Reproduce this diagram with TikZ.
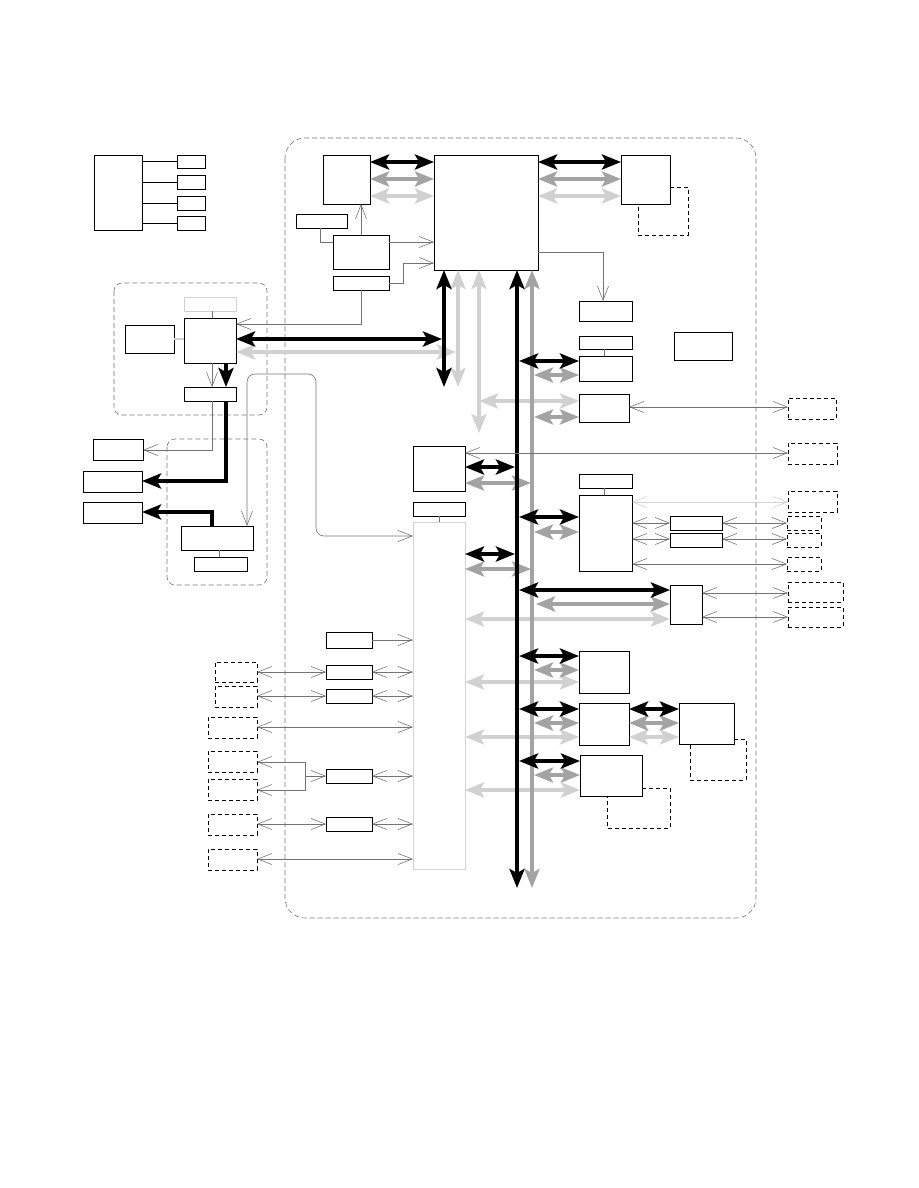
\documentclass[tikz,border=0pt]{standalone}
\usetikzlibrary{arrows.meta}
\definecolor{dg}{gray}{0.64}
\definecolor{lg}{gray}{0.82}
\definecolor{tg}{gray}{0.45}
\definecolor{fg}{gray}{0.45}
\newcommand\bx[6]{\node[#6,anchor=north west,minimum width={(#3-#1)*1pt},minimum height={(#4-#2)*1pt},inner sep=0pt,outer sep=0pt] (#5) at (#1,#2) {};}
\tikzset{
  box/.style={draw=black,fill=white,line width=0.8pt},
  gbox/.style={draw=lg,fill=white,line width=0.8pt},
  dbox/.style={draw=black,line width=0.8pt,dash pattern=on 4pt off 3pt},
  frame/.style={draw=fg,line width=0.6pt,dash pattern=on 5pt off 3pt},
  stl/.tip={Stealth[length=19pt,width=15pt,inset=4pt]},
  bar/.tip={Straight Barb[length=14pt,width=11pt]},
  bk/.style={line width=4pt,draw=black,stl-stl},
  dk/.style={bk,draw=dg},
  lk/.style={bk,draw=lg},
  bk1/.style={line width=4pt,draw=black,-stl},
  th/.style={draw=tg,line width=0.6pt,bar-bar},
  th1/.style={draw=tg,line width=0.6pt,-bar},
  ln/.style={draw=tg,line width=0.6pt},
}
\begin{document}
\begin{tikzpicture}[x=1pt,y=-1pt]
\useasboundingbox (0,0) rectangle (918,1188);
% frames
\draw[frame,rounded corners=20pt] (285,138) rectangle (756,918);
\draw[frame,rounded corners=8pt] (114,283) rectangle (267,415);
\draw[frame,rounded corners=8pt] (167,439) rectangle (267,585);
% top-left group
\bx{94}{155}{142}{230}{TL}{box}
\bx{177}{155}{205}{168}{TLa}{box}
\bx{177}{175}{205}{189}{TLb}{box}
\bx{177}{196}{205}{210}{TLc}{box}
\bx{177}{216}{205}{230}{TLd}{box}
\draw[line width=0.8pt] (TL.east |- TLa.west) -- (TLa.west);
\draw[line width=0.8pt] (TL.east |- TLb.west) -- (TLb.west);
\draw[line width=0.8pt] (TL.east |- TLc.west) -- (TLc.west);
\draw[line width=0.8pt] (TL.east |- TLd.west) -- (TLd.west);
% main boxes
\bx{323}{155}{370}{204}{A}{box}
\bx{434}{155}{538}{270}{CPU}{box}
\bx{621}{155}{670}{204}{B}{box}
\draw[dbox] (B.east |- 0,187) -- (688,187) -- (688,235) -- (638,235) -- (B.south -| 638,0);
\bx{296}{214}{347}{228}{C}{box}
\bx{333}{235}{389}{269}{D}{box}
\bx{333}{276}{389}{290}{E}{box}
\bx{579}{301}{632}{321}{G}{box}
\bx{579}{336}{632}{349}{I}{box}
\bx{579}{356}{632}{381}{J}{box}
\bx{579}{394}{629}{422}{H}{box}
\bx{674}{332}{732}{360}{K}{box}
\bx{788}{398}{836}{419}{Hd}{dbox}
\bx{413}{446}{465}{491}{L}{box}
\bx{788}{443}{837}{464}{Ld}{dbox}
\bx{413}{502}{465}{516}{M}{box}
\bx{413}{522}{465}{869}{N}{gbox}
\bx{579}{474}{632}{488}{O}{box}
\bx{579}{495}{632}{571}{P}{box}
\bx{788}{491}{837}{512}{Pda}{dbox}
\bx{670}{516}{722}{530}{Q}{box}
\bx{787}{516}{821}{530}{Qd}{dbox}
\bx{670}{533}{722}{547}{R}{box}
\bx{787}{533}{821}{547}{Rd}{dbox}
\bx{787}{557}{821}{571}{Pdb}{dbox}
\bx{670}{585}{702}{624}{S}{box}
\bx{788}{582}{843}{602}{Sda}{dbox}
\bx{788}{607}{843}{627}{Sdb}{dbox}
\bx{326}{632}{372}{648}{T}{box}
\bx{326}{665}{372}{679}{U}{box}
\bx{326}{689}{372}{703}{V}{box}
\bx{326}{769}{372}{783}{W}{box}
\bx{326}{817}{372}{831}{X}{box}
\bx{215}{662}{257}{682}{DLa}{dbox}
\bx{215}{686}{257}{707}{DLb}{dbox}
\bx{208}{717}{257}{738}{DLc}{dbox}
\bx{208}{751}{257}{772}{DLd}{dbox}
\bx{208}{779}{257}{800}{DLe}{dbox}
\bx{208}{814}{257}{835}{DLf}{dbox}
\bx{208}{849}{257}{870}{DLg}{dbox}
\bx{579}{651}{629}{693}{Y}{box}
\bx{579}{703}{629}{745}{Z}{box}
\bx{679}{703}{734}{744}{Zb}{box}
\draw[dbox] (Zb.east |- 0,739) -- (746,739) -- (746,780) -- (690,780) -- (Zb.south -| 690,0);
\bx{580}{755}{642}{796}{AA}{box}
\draw[dbox] (AA.east |- 0,788) -- (670,788) -- (670,828) -- (607,828) -- (AA.south -| 607,0);
% left group
\bx{184}{297}{236}{311}{Fz}{gbox}
\bx{184}{318}{236}{363}{F}{box}
\bx{125}{325}{174}{353}{FL}{box}
\bx{184}{387}{236}{401}{FB}{box}
\bx{93}{439}{143}{460}{LBa}{box}
\bx{83}{471}{142}{492}{LBb}{box}
\bx{83}{502}{142}{523}{LBc}{box}
\bx{181}{526}{253}{550}{FC}{box}
\bx{194}{557}{247}{571}{FD}{box}
% bus end coordinates
\coordinate (bkA) at (444,387);
\coordinate (lgA) at (458,387);
\coordinate (lgB) at (479,433);
\coordinate (bkB) at (517,888);
\coordinate (dgB) at (532,888);
\coordinate (split) at (305,790);
% ---------- thick light gray ----------
\draw[lk] (A.east |- 0,196) -- (CPU.west |- 0,196);
\draw[lk] (CPU.east |- 0,196) -- (B.west |- 0,196);
\draw[lk] (CPU.south -| lgA) -- (lgA);
\draw[lk] (CPU.south -| lgB) -- (lgB);
\draw[lk] (F.east |- 0,352) -- (456,352);
\draw[lk] (lgB |- 0,401) -- (H.west |- 0,401);
\draw[lk] (N.east |- 0,619) -- (S.west |- 0,619);
\draw[lk] (N.east |- 0,682) -- (Y.west |- 0,682);
\draw[lk] (N.east |- 0,737) -- (Z.west |- 0,737);
\draw[lk] (Z.east |- 0,737) -- (Zb.west |- 0,737);
\draw[lk] (N.east |- 0,790) -- (AA.west |- 0,790);
% ---------- thick dark gray ----------
\draw[dk] (A.east |- 0,179) -- (CPU.west |- 0,179);
\draw[dk] (CPU.east |- 0,179) -- (B.west |- 0,179);
\draw[dk] (CPU.south -| dgB) -- (dgB);
\draw[dk] (534,375) -- (J.west |- 0,375);
\draw[dk] (534,417) -- (H.west |- 0,417);
\draw[dk] (L.east |- 0,483) -- (531,483);
\draw[dk] (534,532) -- (P.west |- 0,532);
\draw[dk] (N.east |- 0,569) -- (531,569);
\draw[dk] (536,604) -- (S.west |- 0,604);
\draw[dk] (534,670) -- (Y.west |- 0,670);
\draw[dk] (534,723) -- (Z.west |- 0,723);
\draw[dk] (Z.east |- 0,723) -- (Zb.west |- 0,723);
\draw[dk] (534,775) -- (AA.west |- 0,775);
% ---------- thick black ----------
\draw[bk] (A.east |- 0,162) -- (CPU.west |- 0,162);
\draw[bk] (CPU.east |- 0,162) -- (B.west |- 0,162);
\draw[bk] (CPU.south -| bkA) -- (bkA);
\draw[bk] (CPU.south -| bkB) -- (bkB);
\draw[bk] (F.east |- 0,339) -- (442,339);
\draw[bk] (519,361) -- (J.west |- 0,361);
\draw[bk] (L.east |- 0,467) -- (515,467);
\draw[bk] (519,517) -- (P.west |- 0,517);
\draw[bk] (N.east |- 0,554) -- (515,554);
\draw[bk] (519,590) -- (S.west |- 0,590);
\draw[bk] (519,656) -- (Y.west |- 0,656);
\draw[bk] (519,709) -- (Z.west |- 0,709);
\draw[bk] (Z.east |- 0,709) -- (Zb.west |- 0,709);
\draw[bk] (519,761) -- (AA.west |- 0,761);
\draw[bk1] (F.south -| 226,0) -- (FB.north -| 226,0);
\draw[bk1] (FB.south -| 226,0) |- (LBb.east |- 0,481);
\draw[bk1] (FC.north -| 212,0) |- (LBc.east |- 0,512);
% ---------- thin ----------
\draw[ln] (Fz.south -| 212,0) -- (F.north -| 212,0);
\draw[th1] (F.south -| 212,0) -- (FB.north -| 212,0);
\draw[th1] (FB.south -| 212,0) |- (LBa.east |- 0,450);
\draw[draw=lg,line width=1.5pt] (FL.east |- 0,339) -- (F.west |- 0,339);
\draw[th,rounded corners=8pt] (FC.north -| 247,0) -- (247,374) -- (316,374) -- (316,536) -- (N.west |- 0,536);
\draw[ln] (C.south -| 320,0) |- (D.west |- 0,242);
\draw[th1] (D.north -| 361,0) -- (A.south -| 361,0);
\draw[th1] (E.south -| 361,0) |- (F.east |- 0,324);
\draw[th1] (D.east |- 0,242) -- (CPU.west |- 0,242);
\draw[th1] (E.east) -| (403,263) -- (CPU.west |- 0,263);
\draw[th1] (CPU.east |- 0,252) -| (G.north -| 603,0);
\draw[ln] (I.south -| 604,0) -- (J.north -| 604,0);
\draw[ln] (O.south -| 604,0) -- (P.north -| 604,0);
\draw[ln] (M.south -| 439,0) -- (N.north -| 439,0);
\draw[ln] (FC.south -| 219,0) -- (FD.north -| 219,0);
\draw[th] (H.east |- 0,407) -- (Hd.west |- 0,407);
\draw[th] (L.east |- 0,453) -- (Ld.west |- 0,453);
\draw[th,draw=lg] (P.east |- 0,502) -- (Pda.west |- 0,502);
\draw[th] (P.east |- 0,523) -- (Q.west |- 0,523);
\draw[th] (Q.east |- 0,523) -- (Qd.west |- 0,523);
\draw[th] (P.east |- 0,539) -- (R.west |- 0,539);
\draw[th] (R.east |- 0,539) -- (Rd.west |- 0,539);
\draw[th] (P.east |- 0,564) -- (Pdb.west |- 0,564);
\draw[th] (S.east |- 0,593) -- (Sda.west |- 0,593);
\draw[th] (S.east |- 0,617) -- (Sdb.west |- 0,617);
\draw[th1] (T.east) -- (N.west |- T.east);
\draw[th] (DLa.east |- 0,672) -- (U.west |- 0,672);
\draw[th] (U.east |- 0,672) -- (N.west |- 0,672);
\draw[th] (DLb.east |- 0,696) -- (V.west |- 0,696);
\draw[th] (V.east |- 0,696) -- (N.west |- 0,696);
\draw[th] (DLc.east |- 0,727) -- (N.west |- 0,727);
\draw[th] (DLd.east |- 0,762) -| (split) -- (DLe.east |- split);
\draw[th1] (split |- 0,776) -- (W.west |- 0,776);
\draw[th] (W.east |- 0,776) -- (N.west |- 0,776);
\draw[th] (DLf.east |- 0,824) -- (X.west |- 0,824);
\draw[th] (X.east |- 0,824) -- (N.west |- 0,824);
\draw[th] (DLg.east |- 0,859) -- (N.west |- 0,859);
\end{tikzpicture}
\end{document}
